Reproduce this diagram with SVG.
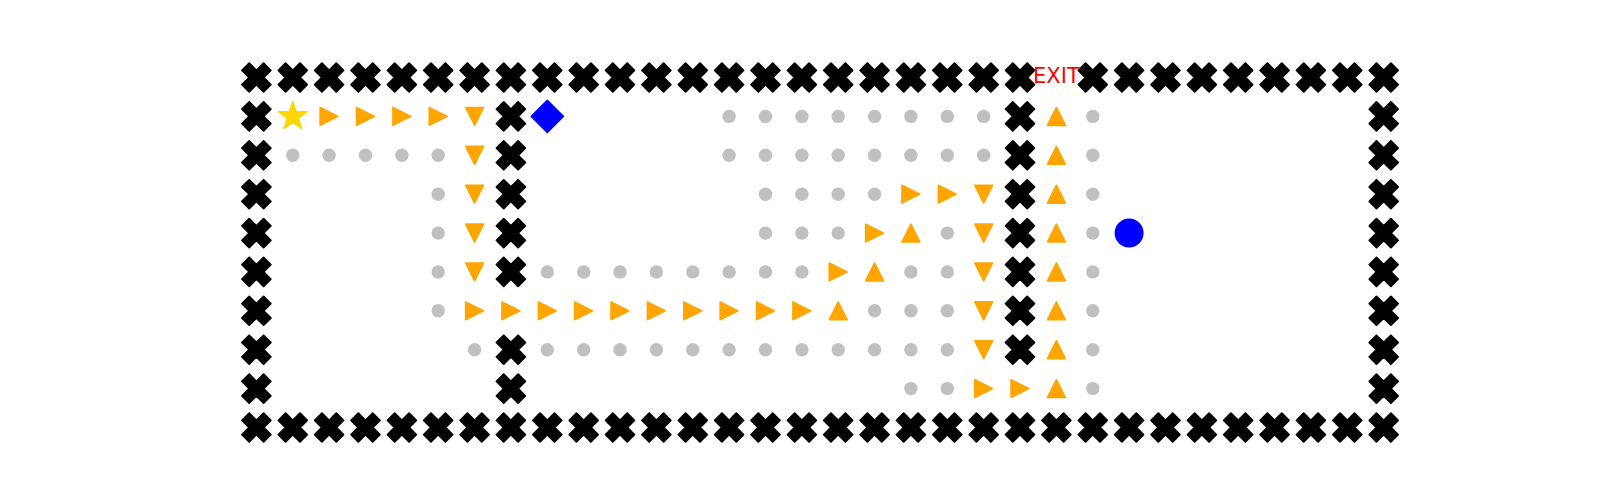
<svg xmlns="http://www.w3.org/2000/svg" width="1600" height="500" viewBox="0 0 1600 500">
<style>
.wall{fill:#000;stroke:#000;stroke-width:1.8;stroke-linejoin:round}
.dot{fill:#c0c0c0}
.arr{fill:#ffa500;stroke:#ffa500;stroke-width:1.5;stroke-linejoin:round}
.exit{font-family:"DejaVu Sans",sans-serif;font-size:21px;fill:#ff0000;text-anchor:middle}
</style>
<defs>
<path id="X" class="wall" d="M-7.2,-14.4 L0,-7.2 L7.2,-14.4 L14.4,-7.2 L7.2,0 L14.4,7.2 L7.2,14.4 L0,7.2 L-7.2,14.4 L-14.4,7.2 L-7.2,0 L-14.4,-7.2 Z"/>
<circle id="D" class="dot" r="6.7"/>
<path id="R" class="arr" d="M9,0 L-9,-9 L-9,9 Z"/>
<path id="Dn" class="arr" d="M0,9 L-9,-9 L9,-9 Z"/>
<path id="U" class="arr" d="M0,-9 L-9,9 L9,9 Z"/>
</defs>
<rect width="1600" height="500" fill="#fff"/>
<g id="walls">
<use href="#X" x="256.4" y="77.5"/><use href="#X" x="292.8" y="77.5"/><use href="#X" x="329.1" y="77.5"/><use href="#X" x="365.5" y="77.5"/><use href="#X" x="401.9" y="77.5"/><use href="#X" x="438.2" y="77.5"/><use href="#X" x="474.6" y="77.5"/><use href="#X" x="510.9" y="77.5"/><use href="#X" x="547.3" y="77.5"/><use href="#X" x="583.7" y="77.5"/><use href="#X" x="620.0" y="77.5"/><use href="#X" x="656.4" y="77.5"/><use href="#X" x="692.8" y="77.5"/><use href="#X" x="729.1" y="77.5"/><use href="#X" x="765.5" y="77.5"/><use href="#X" x="801.9" y="77.5"/><use href="#X" x="838.2" y="77.5"/><use href="#X" x="874.6" y="77.5"/><use href="#X" x="910.9" y="77.5"/><use href="#X" x="947.3" y="77.5"/><use href="#X" x="983.7" y="77.5"/><use href="#X" x="1020.0" y="77.5"/><use href="#X" x="1092.8" y="77.5"/><use href="#X" x="1129.1" y="77.5"/><use href="#X" x="1165.5" y="77.5"/><use href="#X" x="1201.9" y="77.5"/><use href="#X" x="1238.2" y="77.5"/><use href="#X" x="1274.6" y="77.5"/><use href="#X" x="1310.9" y="77.5"/><use href="#X" x="1347.3" y="77.5"/><use href="#X" x="1383.7" y="77.5"/>
<use href="#X" x="256.4" y="427.5"/><use href="#X" x="292.8" y="427.5"/><use href="#X" x="329.1" y="427.5"/><use href="#X" x="365.5" y="427.5"/><use href="#X" x="401.9" y="427.5"/><use href="#X" x="438.2" y="427.5"/><use href="#X" x="474.6" y="427.5"/><use href="#X" x="510.9" y="427.5"/><use href="#X" x="547.3" y="427.5"/><use href="#X" x="583.7" y="427.5"/><use href="#X" x="620.0" y="427.5"/><use href="#X" x="656.4" y="427.5"/><use href="#X" x="692.8" y="427.5"/><use href="#X" x="729.1" y="427.5"/><use href="#X" x="765.5" y="427.5"/><use href="#X" x="801.9" y="427.5"/><use href="#X" x="838.2" y="427.5"/><use href="#X" x="874.6" y="427.5"/><use href="#X" x="910.9" y="427.5"/><use href="#X" x="947.3" y="427.5"/><use href="#X" x="983.7" y="427.5"/><use href="#X" x="1020.0" y="427.5"/><use href="#X" x="1056.4" y="427.5"/><use href="#X" x="1092.8" y="427.5"/><use href="#X" x="1129.1" y="427.5"/><use href="#X" x="1165.5" y="427.5"/><use href="#X" x="1201.9" y="427.5"/><use href="#X" x="1238.2" y="427.5"/><use href="#X" x="1274.6" y="427.5"/><use href="#X" x="1310.9" y="427.5"/><use href="#X" x="1347.3" y="427.5"/><use href="#X" x="1383.7" y="427.5"/>
<use href="#X" x="256.4" y="116.4"/><use href="#X" x="256.4" y="155.3"/><use href="#X" x="256.4" y="194.2"/><use href="#X" x="256.4" y="233.1"/><use href="#X" x="256.4" y="271.9"/><use href="#X" x="256.4" y="310.8"/><use href="#X" x="256.4" y="349.7"/><use href="#X" x="256.4" y="388.6"/>
<use href="#X" x="1383.7" y="116.4"/><use href="#X" x="1383.7" y="155.3"/><use href="#X" x="1383.7" y="194.2"/><use href="#X" x="1383.7" y="233.1"/><use href="#X" x="1383.7" y="271.9"/><use href="#X" x="1383.7" y="310.8"/><use href="#X" x="1383.7" y="349.7"/><use href="#X" x="1383.7" y="388.6"/>
<use href="#X" x="510.9" y="116.4"/><use href="#X" x="510.9" y="155.3"/><use href="#X" x="510.9" y="194.2"/><use href="#X" x="510.9" y="233.1"/><use href="#X" x="510.9" y="271.9"/><use href="#X" x="510.9" y="349.7"/><use href="#X" x="510.9" y="388.6"/>
<use href="#X" x="1020.0" y="116.4"/><use href="#X" x="1020.0" y="155.3"/><use href="#X" x="1020.0" y="194.2"/><use href="#X" x="1020.0" y="233.1"/><use href="#X" x="1020.0" y="271.9"/><use href="#X" x="1020.0" y="310.8"/><use href="#X" x="1020.0" y="349.7"/>
</g>
<g id="dots">
<use href="#D" x="729.1" y="116.4"/><use href="#D" x="765.5" y="116.4"/><use href="#D" x="801.9" y="116.4"/><use href="#D" x="838.2" y="116.4"/><use href="#D" x="874.6" y="116.4"/><use href="#D" x="910.9" y="116.4"/><use href="#D" x="947.3" y="116.4"/><use href="#D" x="983.7" y="116.4"/><use href="#D" x="1092.8" y="116.4"/>
<use href="#D" x="292.8" y="155.3"/><use href="#D" x="329.1" y="155.3"/><use href="#D" x="365.5" y="155.3"/><use href="#D" x="401.9" y="155.3"/><use href="#D" x="438.2" y="155.3"/><use href="#D" x="729.1" y="155.3"/><use href="#D" x="765.5" y="155.3"/><use href="#D" x="801.9" y="155.3"/><use href="#D" x="838.2" y="155.3"/><use href="#D" x="874.6" y="155.3"/><use href="#D" x="910.9" y="155.3"/><use href="#D" x="947.3" y="155.3"/><use href="#D" x="983.7" y="155.3"/><use href="#D" x="1092.8" y="155.3"/>
<use href="#D" x="438.2" y="194.2"/><use href="#D" x="765.5" y="194.2"/><use href="#D" x="801.9" y="194.2"/><use href="#D" x="838.2" y="194.2"/><use href="#D" x="874.6" y="194.2"/><use href="#D" x="1092.8" y="194.2"/>
<use href="#D" x="438.2" y="233.1"/><use href="#D" x="765.5" y="233.1"/><use href="#D" x="801.9" y="233.1"/><use href="#D" x="838.2" y="233.1"/><use href="#D" x="947.3" y="233.1"/><use href="#D" x="1092.8" y="233.1"/>
<use href="#D" x="438.2" y="271.9"/><use href="#D" x="547.3" y="271.9"/><use href="#D" x="583.7" y="271.9"/><use href="#D" x="620.0" y="271.9"/><use href="#D" x="656.4" y="271.9"/><use href="#D" x="692.8" y="271.9"/><use href="#D" x="729.1" y="271.9"/><use href="#D" x="765.5" y="271.9"/><use href="#D" x="801.9" y="271.9"/><use href="#D" x="910.9" y="271.9"/><use href="#D" x="947.3" y="271.9"/><use href="#D" x="1092.8" y="271.9"/>
<use href="#D" x="438.2" y="310.8"/><use href="#D" x="874.6" y="310.8"/><use href="#D" x="910.9" y="310.8"/><use href="#D" x="947.3" y="310.8"/><use href="#D" x="1092.8" y="310.8"/>
<use href="#D" x="474.6" y="349.7"/><use href="#D" x="547.3" y="349.7"/><use href="#D" x="583.7" y="349.7"/><use href="#D" x="620.0" y="349.7"/><use href="#D" x="656.4" y="349.7"/><use href="#D" x="692.8" y="349.7"/><use href="#D" x="729.1" y="349.7"/><use href="#D" x="765.5" y="349.7"/><use href="#D" x="801.9" y="349.7"/><use href="#D" x="838.2" y="349.7"/><use href="#D" x="874.6" y="349.7"/><use href="#D" x="910.9" y="349.7"/><use href="#D" x="947.3" y="349.7"/><use href="#D" x="1092.8" y="349.7"/>
<use href="#D" x="910.9" y="388.6"/><use href="#D" x="947.3" y="388.6"/><use href="#D" x="1092.8" y="388.6"/>
</g>
<g id="path">
<use href="#R" x="329.1" y="116.4"/><use href="#R" x="365.5" y="116.4"/><use href="#R" x="401.9" y="116.4"/><use href="#R" x="438.2" y="116.4"/>
<use href="#Dn" x="474.6" y="116.4"/><use href="#Dn" x="474.6" y="155.3"/><use href="#Dn" x="474.6" y="194.2"/><use href="#Dn" x="474.6" y="233.1"/><use href="#Dn" x="474.6" y="271.9"/>
<use href="#R" x="474.6" y="310.8"/><use href="#R" x="510.9" y="310.8"/><use href="#R" x="547.3" y="310.8"/><use href="#R" x="583.7" y="310.8"/><use href="#R" x="620.0" y="310.8"/><use href="#R" x="656.4" y="310.8"/><use href="#R" x="692.8" y="310.8"/><use href="#R" x="729.1" y="310.8"/><use href="#R" x="765.5" y="310.8"/><use href="#R" x="801.9" y="310.8"/>
<use href="#U" x="838.2" y="310.8"/><use href="#R" x="838.2" y="271.9"/><use href="#U" x="874.6" y="271.9"/><use href="#R" x="874.6" y="233.1"/><use href="#U" x="910.9" y="233.1"/>
<use href="#R" x="910.9" y="194.2"/><use href="#R" x="947.3" y="194.2"/>
<use href="#Dn" x="983.7" y="194.2"/><use href="#Dn" x="983.7" y="233.1"/><use href="#Dn" x="983.7" y="271.9"/><use href="#Dn" x="983.7" y="310.8"/><use href="#Dn" x="983.7" y="349.7"/>
<use href="#R" x="983.7" y="388.6"/><use href="#R" x="1020.0" y="388.6"/>
<use href="#U" x="1056.4" y="388.6"/><use href="#U" x="1056.4" y="349.7"/><use href="#U" x="1056.4" y="310.8"/><use href="#U" x="1056.4" y="271.9"/><use href="#U" x="1056.4" y="233.1"/><use href="#U" x="1056.4" y="194.2"/><use href="#U" x="1056.4" y="155.3"/><use href="#U" x="1056.4" y="116.4"/>
</g>
<g id="start">
<path transform="translate(292.8 116.4)" fill="#ffd700" stroke="#ffd700" stroke-width="1.5" stroke-linejoin="round" d="M0,-15 L3.37,-4.64 L14.27,-4.64 L5.45,1.77 L8.82,12.14 L0,5.73 L-8.82,12.14 L-5.45,1.77 L-14.27,-4.64 L-3.37,-4.64 Z"/>
</g>
<g id="diamond">
<path transform="translate(547.3 116.4)" fill="#0000ff" stroke="#0000ff" stroke-width="1.5" stroke-linejoin="round" d="M0,-16 L16,0 L0,16 L-16,0 Z"/>
</g>
<g id="circle">
<circle cx="1129.1" cy="233.1" r="14.5" fill="#0000ff"/>
</g>
<g id="exit">
<text class="exit" x="1056.4" y="83">EXIT</text>
</g>
</svg>
